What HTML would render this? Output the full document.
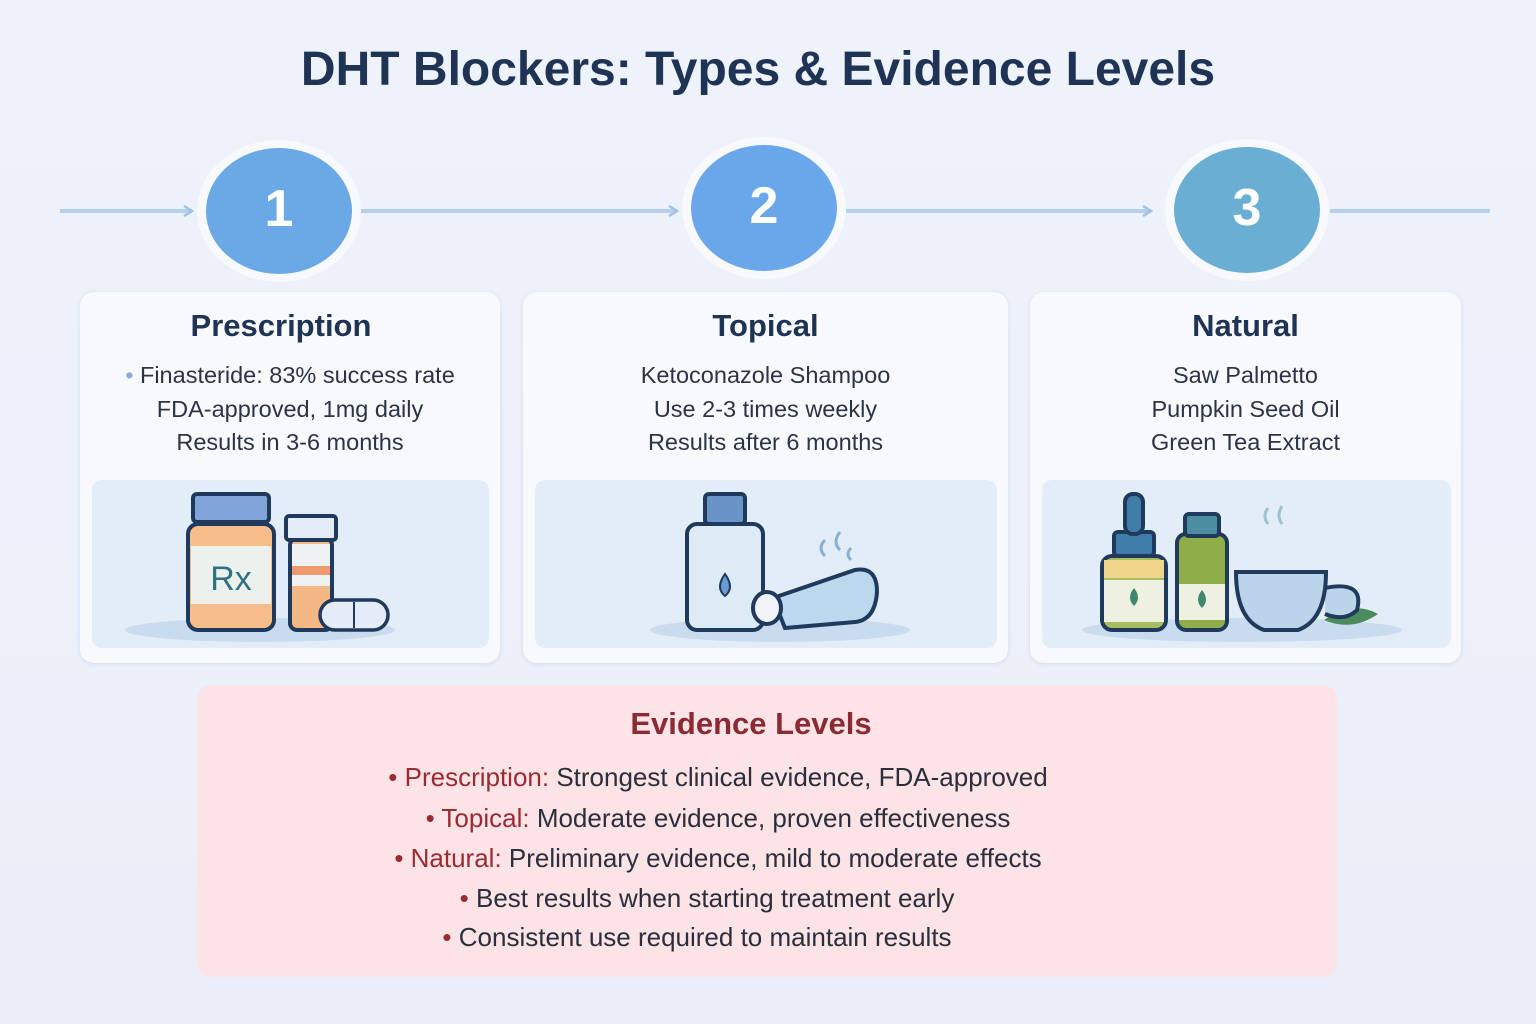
<!DOCTYPE html>
<html><head><meta charset="utf-8"><style>
body{margin:0;width:1536px;height:1024px;background:linear-gradient(180deg,#eef2fb,#e9eef8);font-family:"Liberation Sans",sans-serif;position:relative;overflow:hidden}
.abs{position:absolute}
h1{position:absolute;left:0;width:1516px;top:42px;margin:0;text-align:center;font-size:48px;color:#1f3355;font-weight:bold}
.card{position:absolute;top:292px;height:371px;background:#f8f9fd;border-radius:14px;box-shadow:0 1px 4px rgba(120,140,180,.2)}
.card h2{margin:0;position:absolute;font-size:31px;color:#1f3355;text-align:center}
.card .t{position:absolute;top:67px;left:0;right:0;text-align:center;font-size:23.5px;line-height:33.5px;color:#2b3346}
.panel{position:absolute;top:188px;height:168px;background:#e3edf7;border-radius:10px}
.ev{position:absolute;left:197px;top:685px;width:1140px;height:292px;background:#fbe3e6;border-radius:14px}
.ev h3{margin:0;position:absolute;top:21px;left:0;width:1108px;text-align:center;font-size:31px;color:#8b2a32}
.ev p{margin:0;position:absolute;left:0;width:1042px;text-align:center;font-size:26px;color:#2b2f3c}
.r{color:#9c2a33}
</style></head><body>
<h1>DHT Blockers: Types &amp; Evidence Levels</h1>
<svg class="abs" style="left:0;top:0" width="1536" height="300">
<defs><marker id="a" markerWidth="12" markerHeight="12" refX="10" refY="6" orient="auto" markerUnits="userSpaceOnUse"><path d="M2 1 L10 6 L2 11" fill="none" stroke="#9fc3e6" stroke-width="2.5"/></marker></defs>
<g stroke="#b5d0ec" stroke-width="4">
<line x1="60" y1="211" x2="192" y2="211" marker-end="url(#a)"/>
<line x1="360" y1="211" x2="677" y2="211" marker-end="url(#a)"/>
<line x1="846" y1="211" x2="1151" y2="211" marker-end="url(#a)"/>
<line x1="1330" y1="211" x2="1490" y2="211"/>
</g>
<ellipse cx="279" cy="211" rx="82" ry="71" fill="#f7f9fd"/>
<ellipse cx="279" cy="211" rx="73" ry="63" fill="#6aa9e6"/>
<ellipse cx="764" cy="208" rx="82" ry="71" fill="#f7f9fd"/>
<ellipse cx="764" cy="208" rx="73" ry="63" fill="#6aa6ea"/>
<ellipse cx="1247" cy="210" rx="82" ry="71" fill="#f7f9fd"/>
<ellipse cx="1247" cy="210" rx="73" ry="63" fill="#6aaed3"/>
<g font-family="Liberation Sans" font-weight="bold" font-size="52" fill="#fff" text-anchor="middle">
<text x="279" y="226">1</text><text x="764" y="223">2</text><text x="1247" y="225">3</text></g>
</svg>

<div class="card" style="left:80px;width:420px"><h2 style="top:16px;width:100%;text-align:center;left:-9px">Prescription</h2>
<div class="t"><span style="color:#8aaed0">• </span>Finasteride: 83% success rate<br>FDA-approved, 1mg daily<br>Results in 3-6 months</div>
<div class="panel" style="left:12px;width:397px">
<svg width="397" height="168"><ellipse cx="168" cy="150" rx="135" ry="12" fill="#c9dcef"/>
<rect x="96" y="44" width="86" height="106" rx="10" fill="#f5bd8a" stroke="#1f3a5c" stroke-width="4"/>
<rect x="99" y="66" width="80" height="58" fill="#edf1ee"/>
<rect x="101" y="14" width="76" height="28" rx="4" fill="#7fa5d8" stroke="#1f3a5c" stroke-width="4"/>
<text x="139" y="110" font-size="34" fill="#2e7480" text-anchor="middle" font-family="Liberation Sans">Rx</text>
<rect x="198" y="58" width="42" height="92" rx="7" fill="#f3b886" stroke="#1f3a5c" stroke-width="4"/>
<rect x="200" y="64" width="38" height="42" fill="#eef2f2"/><rect x="200" y="86" width="38" height="9" fill="#ef9a6e"/>
<rect x="194" y="36" width="50" height="24" rx="3" fill="#e4edf7" stroke="#1f3a5c" stroke-width="4"/>
<rect x="228" y="120" width="68" height="30" rx="15" fill="#e4edf7" stroke="#1f3a5c" stroke-width="3.5"/>
<line x1="262" y1="122" x2="262" y2="148" stroke="#1f3a5c" stroke-width="2"/></svg></div></div>

<div class="card" style="left:523px;width:485px"><h2 style="top:16px;width:100%;text-align:center">Topical</h2>
<div class="t">Ketoconazole Shampoo<br>Use 2-3 times weekly<br>Results after 6 months</div>
<div class="panel" style="left:12px;width:462px">
<svg width="462" height="168"><ellipse cx="245" cy="150" rx="130" ry="12" fill="#c9dcef"/>
<rect x="152" y="44" width="76" height="106" rx="10" fill="#dcebf5" stroke="#1f3a5c" stroke-width="4"/>
<rect x="170" y="14" width="40" height="30" rx="4" fill="#6a93c6" stroke="#1f3a5c" stroke-width="4"/>
<path d="M190 94 q-10 14 0 22 q10 -8 0 -22z" fill="#6a9bd6" stroke="#1f3a5c" stroke-width="2"/>
<path d="M238 118 L320 90 Q342 86 342 112 Q340 140 320 142 L250 148 Z" fill="#bcd8ee" stroke="#1f3a5c" stroke-width="4"/>
<ellipse cx="232" cy="128" rx="14" ry="16" fill="#eef4fa" stroke="#1f3a5c" stroke-width="4"/>
<path d="M290 60 q-8 8 0 16 M305 52 q-8 10 0 18 M316 68 q-6 6 0 12" fill="none" stroke="#8ab0d0" stroke-width="3"/></svg></div></div>

<div class="card" style="left:1030px;width:431px"><h2 style="top:16px;width:100%;text-align:center">Natural</h2>
<div class="t">Saw Palmetto<br>Pumpkin Seed Oil<br>Green Tea Extract</div>
<div class="panel" style="left:12px;width:409px">
<svg width="409" height="168"><ellipse cx="200" cy="150" rx="160" ry="12" fill="#c9dcef"/>
<rect x="60" y="76" width="64" height="74" rx="10" fill="#a8bd62" stroke="#1f3a5c" stroke-width="4"/>
<rect x="62" y="100" width="60" height="42" fill="#eef0e2"/><rect x="62" y="80" width="60" height="18" fill="#f0d58a"/>
<rect x="72" y="52" width="40" height="24" rx="4" fill="#3f7ea8" stroke="#1f3a5c" stroke-width="4"/>
<rect x="83" y="14" width="18" height="40" rx="8" fill="#3f7ea8" stroke="#1f3a5c" stroke-width="4"/>
<path d="M92 108 q-8 10 0 18 q8 -8 0 -18z" fill="#3e8a6e"/>
<rect x="135" y="54" width="50" height="96" rx="9" fill="#8fae4a" stroke="#1f3a5c" stroke-width="4"/>
<rect x="137" y="104" width="46" height="36" fill="#eef0e2"/>
<rect x="143" y="34" width="34" height="22" rx="4" fill="#4b8ea0" stroke="#1f3a5c" stroke-width="4"/>
<path d="M160 110 q-8 10 0 18 q8 -8 0 -18z" fill="#3e8a6e"/>
<path d="M282 140 q30 -20 54 -6 q-26 18 -54 6z" fill="#4b8a5c"/>
<path d="M283 108 q40 -8 32 22 q-12 12 -32 4" fill="#bcd3ec" stroke="#1f3a5c" stroke-width="4"/>
<path d="M194 92 L284 92 Q284 140 256 150 L222 150 Q194 140 194 92Z" fill="#bcd3ec" stroke="#1f3a5c" stroke-width="4"/>
<path d="M226 28 q-6 8 0 16 M240 26 q-6 10 0 18" fill="none" stroke="#9cc4cf" stroke-width="3"/></svg></div></div>

<div class="ev"><h3>Evidence Levels</h3>
<p style="top:77px"><span class="r">• Prescription:</span> Strongest clinical evidence, FDA-approved</p>
<p style="top:118px"><span class="r">• Topical:</span> Moderate evidence, proven effectiveness</p>
<p style="top:158px"><span class="r">• Natural:</span> Preliminary evidence, mild to moderate effects</p>
<p style="top:198px;width:1020px"><span class="r">•</span> Best results when starting treatment early</p>
<p style="top:237px;width:1000px"><span class="r">•</span> Consistent use required to maintain results</p>
</div>
</body></html>
